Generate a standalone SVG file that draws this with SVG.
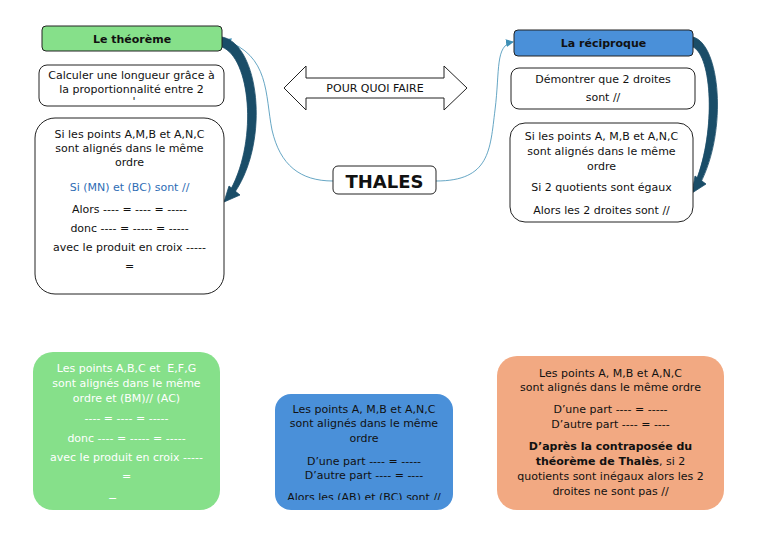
<svg xmlns="http://www.w3.org/2000/svg" width="768" height="543" viewBox="0 0 768 543">
<style>
text{font-family:"DejaVu Sans",Verdana,sans-serif;font-size:11px;text-anchor:middle;fill:#111}
.w{fill:#fff}
.b{font-weight:bold}
.box{fill:#fff;stroke:#222;stroke-width:1}
.thin{fill:none;stroke:#3f8fb5;stroke-width:0.8}
.thick{fill:#1a4d68;stroke:#1a4d68;stroke-width:0.8;stroke-linejoin:round}
</style>
<defs>
<marker id="ah" markerWidth="8" markerHeight="8" refX="7" refY="4" orient="auto" markerUnits="userSpaceOnUse"><path d="M0,0 L8,4 L0,8 Z" fill="#3f8fb5"/></marker>
<clipPath id="c1"><rect x="39" y="65" width="185" height="39"/></clipPath>
<clipPath id="c2"><rect x="33" y="352" width="187" height="148"/></clipPath>
<clipPath id="c3"><rect x="275" y="394" width="178" height="106"/></clipPath>
</defs>
<g id="connectors">
<path class="thin" d="M333,181 C300,181 280,165 272,130 C265,95 270,55 224,40" marker-end="url(#ah)"/>
<path class="thin" d="M436,181 C490,181 490,150 495,110 C500,70 495,45 513,42" marker-end="url(#ah)"/>
<path class="thick" d="M222,37 C259,44 270,140 235,192 L231,189 C258,138 250,58 222,47 Z"/>
<path class="thick" d="M224,202 L229,186 L240,195 Z"/>
<path class="thick" d="M693,37 C720,44 728,130 700,184 L696,181 C716,130 712,56 693,47 Z"/>
<path class="thick" d="M692,193 L695,176 L706,184 Z"/>
</g>
<g id="pourquoi">
<path d="M284,88 L306,66 L306,78 L444,78 L444,66 L467,88 L444,110 L444,98 L306,98 L306,110 Z" fill="#fff" stroke="#222" stroke-width="1"/>
<text x="375" y="92">POUR QUOI FAIRE</text>
</g>
<g id="thales">
<rect class="box" x="333" y="166" width="103" height="28" rx="5"/>
<text x="384.5" y="188" class="b" style="font-size:18px">THALES</text>
</g>
<g id="theoreme">
<rect x="42" y="26" width="180" height="25" rx="4" fill="#86e08a" stroke="#222"/>
<text x="132" y="43" class="b">Le théorème</text>
</g>
<g id="calculer">
<rect class="box" x="39" y="65" width="185" height="41" rx="8"/>
<g clip-path="url(#c1)">
<text x="131.5" y="79">Calculer une longueur grâce à</text>
<text x="131.5" y="93">la proportionnalité entre 2</text>
<text x="134" y="105">'</text>
</g>
</g>
<g id="theoreme-detail">
<rect class="box" x="35" y="118" width="189" height="176" rx="20"/>
<text x="129.5" y="138">Si les points A,M,B et A,N,C</text>
<text x="129.5" y="152">sont alignés dans le même</text>
<text x="129.5" y="166">ordre</text>
<text x="129.5" y="191" style="fill:#2e6db5">Si (MN) et (BC) sont //</text>
<text x="129.5" y="213">Alors ---- = ---- = -----</text>
<text x="129.5" y="232">donc ---- = ----- = -----</text>
<text x="129.5" y="251">avec le produit en croix -----</text>
<text x="129.5" y="270">=</text>
</g>
<g id="reciproque">
<rect x="514" y="30" width="179" height="26" rx="4" fill="#4a90d9" stroke="#222"/>
<text x="603.5" y="47" class="b">La réciproque</text>
</g>
<g id="demontrer">
<rect class="box" x="511" y="68" width="184" height="41" rx="8"/>
<text x="603" y="83">Démontrer que 2 droites</text>
<text x="603" y="101">sont //</text>
</g>
<g id="reciproque-detail">
<rect class="box" x="510" y="123" width="183" height="99" rx="15"/>
<text x="601.5" y="140">Si les points A, M,B et A,N,C</text>
<text x="601.5" y="155">sont alignés dans le même</text>
<text x="601.5" y="170">ordre</text>
<text x="601.5" y="191">Si 2 quotients sont égaux</text>
<text x="601.5" y="214">Alors les 2 droites sont //</text>
</g>
<g id="exemple-vert">
<rect x="33" y="352" width="187" height="158" rx="20" fill="#86e08a"/>
<g clip-path="url(#c2)">
<text class="w" x="126.5" y="372">Les points A,B,C et&#160; E,F,G</text>
<text class="w" x="126.5" y="387">sont alignés dans le même</text>
<text class="w" x="126.5" y="402">ordre et (BM)// (AC)</text>
<text class="w" x="126.5" y="422">---- = ---- = -----</text>
<text class="w" x="126.5" y="442">donc ---- = ----- = -----</text>
<text class="w" x="126.5" y="461">avec le produit en croix -----</text>
<text class="w" x="126.5" y="480">=</text>
<text class="w" x="126.5" y="503">= ...   ...</text>
</g>
</g>
<g id="exemple-bleu">
<rect x="275" y="394" width="178" height="116" rx="16" fill="#4a90d9"/>
<g clip-path="url(#c3)">
<text x="364" y="413">Les points A, M,B et A,N,C</text>
<text x="364" y="427">sont alignés dans le même</text>
<text x="364" y="442">ordre</text>
<text x="364" y="465">D’une part ---- = -----</text>
<text x="364" y="479">D’autre part ---- = ----</text>
<text x="364" y="501">Alors les (AB) et (BC) sont //</text>
</g>
</g>
<g id="exemple-orange">
<rect x="497" y="356" width="227" height="154" rx="20" fill="#f2a982"/>
<text x="610.5" y="377">Les points A, M,B et A,N,C</text>
<text x="610.5" y="391">sont alignés dans le même ordre</text>
<text x="610.5" y="413">D’une part ---- = -----</text>
<text x="610.5" y="428">D’autre part ---- = ----</text>
<text x="610.5" y="450" class="b">D’après la contraposée du</text>
<text x="610.5" y="465"><tspan class="b">théorème de Thalès</tspan>, si 2</text>
<text x="610.5" y="480">quotients sont inégaux alors les 2</text>
<text x="610.5" y="495">droites ne sont pas //</text>
</g>
</svg>
